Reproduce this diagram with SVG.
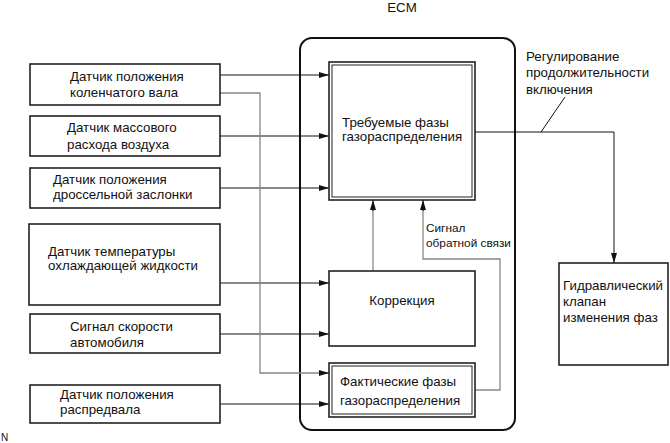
<svg xmlns="http://www.w3.org/2000/svg" width="670" height="443" viewBox="0 0 670 443">
<style>
text{font-family:"Liberation Sans",Arial,sans-serif;font-size:13.3px;fill:#111}
.sm{font-size:11.8px}
.box{fill:#fff;stroke:#222;stroke-width:1.6}
.in{fill:none;stroke:#222;stroke-width:1}
.ln{fill:none;stroke:#111;stroke-width:1}
.gl{fill:none;stroke:#888;stroke-width:1.3}
</style>
<defs>
<marker id="ah" viewBox="0 0 10 6" refX="10" refY="3" markerWidth="10" markerHeight="6" markerUnits="userSpaceOnUse" orient="auto">
<path d="M0,0 L10,3 L0,6 Z" fill="#111"/>
</marker>
</defs>
<rect width="670" height="443" fill="#fff"/>
<text x="402" y="12" text-anchor="middle">ECM</text>
<g id="ecm"><rect x="300" y="38" width="215" height="392" rx="12" fill="none" stroke="#111" stroke-width="2"/></g>

<g id="connectors">
<path class="ln" d="M220,75 H329" marker-end="url(#ah)"/>
<path class="ln" d="M220,136 H329" marker-end="url(#ah)"/>
<path class="ln" d="M220,188 H329" marker-end="url(#ah)"/>
<path class="ln" d="M220,283 H329" marker-end="url(#ah)"/>
<path class="ln" d="M220,334 H329" marker-end="url(#ah)"/>
<path class="ln" d="M220,404 H329" marker-end="url(#ah)"/>
<path class="gl" d="M220,93 H260 V373 H320"/>
<path class="ln" d="M320,373 H329" marker-end="url(#ah)"/>
<path class="gl" d="M373,271 V210"/>
<path class="ln" d="M373,211 V200" marker-end="url(#ah)"/>
<path class="gl" d="M475,390 H500 V259 H423 V210"/>
<path class="ln" d="M423,211 V200" marker-end="url(#ah)"/>
<path class="ln" d="M475,132 H614 V263" marker-end="url(#ah)"/>
<path class="ln" d="M541,132 L565,97"/>
</g>

<g id="n1"><rect class="box" x="30" y="64" width="190" height="41"/><text x="70" y="81">Датчик положения</text><text x="70" y="97">коленчатого вала</text></g>
<g id="n2"><rect class="box" x="30" y="116" width="190" height="40"/><text x="67" y="132">Датчик массового</text><text x="67" y="149">расхода воздуха</text></g>
<g id="n3"><rect class="box" x="30" y="168" width="190" height="40"/><text x="53" y="184">Датчик положения</text><text x="53" y="199">дроссельной заслонки</text></g>
<g id="n4"><rect class="box" x="29" y="224" width="191" height="81"/><text x="48" y="256">Датчик температуры</text><text x="48" y="270">охлаждающей жидкости</text></g>
<g id="n5"><rect class="box" x="30" y="314" width="190" height="39"/><text x="70" y="331">Сигнал скорости</text><text x="70" y="347">автомобиля</text></g>
<g id="n6"><rect class="box" x="30" y="385" width="190" height="38"/><text x="60" y="399">Датчик положения</text><text x="60" y="414">распредвала</text></g>

<g id="req"><rect class="box" x="329" y="62" width="146" height="138"/><rect class="in" x="332" y="65" width="140" height="132"/><text x="342" y="127">Требуемые фазы</text><text x="342" y="141">газораспределения</text></g>
<g id="corr"><rect class="box" x="329" y="271" width="146" height="75"/><text x="402" y="305" text-anchor="middle">Коррекция</text></g>
<g id="act"><rect class="box" x="329" y="363" width="146" height="54"/><rect class="in" x="332" y="366" width="140" height="48"/><text x="340" y="386">Фактические фазы</text><text x="340" y="405">газораспределения</text></g>
<g id="hyd"><rect class="box" x="559" y="263" width="109" height="102"/><text x="563" y="290">Гидравлический</text><text x="563" y="306">клапан</text><text x="563" y="322">изменения фаз</text></g>

<text class="sm" x="426" y="232">Сигнал</text>
<text class="sm" x="426" y="247">обратной связи</text>
<text x="526" y="61">Регулирование</text>
<text x="526" y="77">продолжительности</text>
<text x="526" y="94">включения</text>
<text x="1" y="441" style="font-size:10px">N</text>
</svg>
